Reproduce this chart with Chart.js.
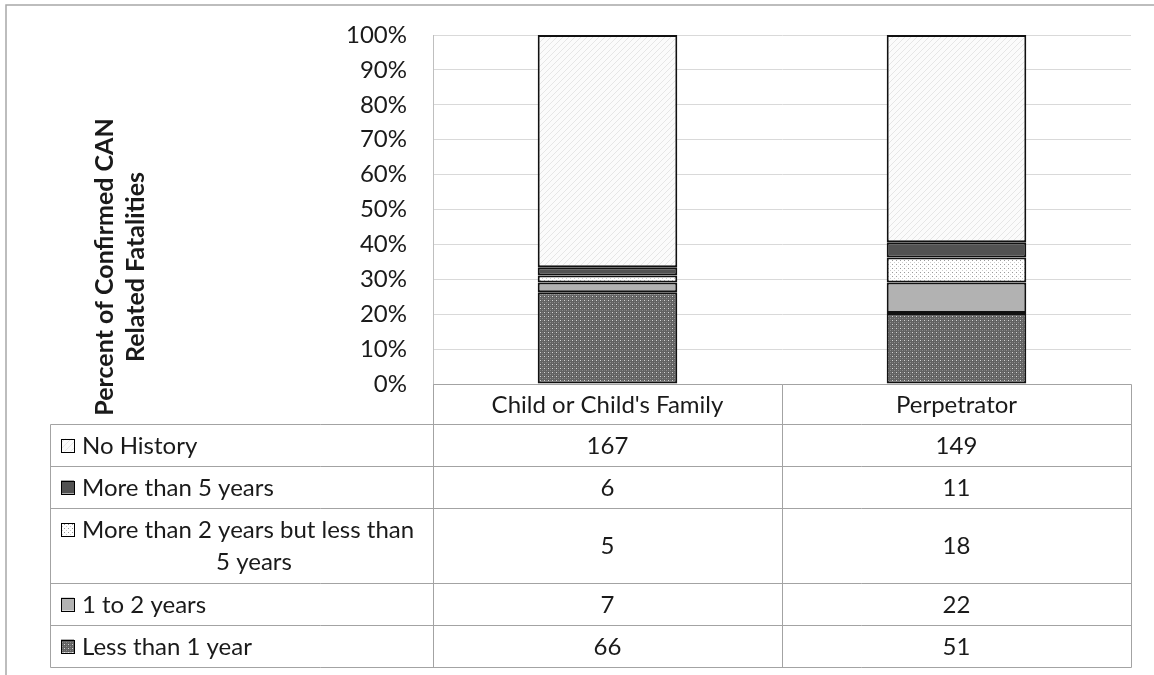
<!DOCTYPE html>
<html>
<head>
<meta charset="utf-8">
<script src="https://cdn.jsdelivr.net/npm/chart.js@4.4.1/dist/chart.umd.min.js"></script>
<style>
  body { margin: 0; background: #fff; }
  canvas { display: block; }
</style>
</head>
<body>
<canvas id="myChart" width="1154" height="675"></canvas>
<script>
// data (counts)
const categories = ["Child or Child's Family", "Perpetrator"];
const lessThan1Year = [66, 51];
const oneTo2Years = [7, 22];
const twoTo5Years = [5, 18];
const moreThan5Years = [6, 11];
const noHistory = [167, 149];
const yTickValues = [0, 10, 20, 30, 40, 50, 60, 70, 80, 90, 100];
const yTitle = ["Percent of Confirmed CAN", "Related Fatalities"];

const FONT = "Lato, 'Open Sans', sans-serif";
const TEXT = "#1a1a1a";

function makePattern(size, bg, dots) {
  const c = document.createElement("canvas");
  c.width = size;
  c.height = size;
  const g = c.getContext("2d");
  g.fillStyle = bg;
  g.fillRect(0, 0, size, size);
  dots.forEach(([x, y, col]) => {
    g.fillStyle = col;
    g.fillRect(x, y, 1, 1);
  });
  return g.createPattern(c, "repeat");
}

const patLess1 = makePattern(4, "#626262", [[0, 0, "#d4d4d4"], [2, 2, "#8c8c8c"], [2, 0, "#7a7a7a"], [0, 2, "#7a7a7a"]]);
const fill1to2 = "#b2b2b2";
const pat2to5 = makePattern(4, "#ffffff", [[0, 0, "#9a9a9a"], [2, 2, "#cfcfcf"]]);
const fillMore5 = "#525252";
const diag = [];
for (let i = 0; i < 6; i++) diag.push([i, 5 - i, "#e6e6e6"]);
const patNoHist = makePattern(6, "#fbfbfb", diag);

const totals = categories.map((_, i) =>
  lessThan1Year[i] + oneTo2Years[i] + twoTo5Years[i] + moreThan5Years[i] + noHistory[i]);
const pct = arr => arr.map((v, i) => (v / totals[i]) * 100);

// bottom-up stacking order
const series = [
  { label: "Less than 1 year", counts: lessThan1Year, fill: patLess1 },
  { label: "1 to 2 years", counts: oneTo2Years, fill: fill1to2 },
  { label: "More than 2 years but less than 5 years", counts: twoTo5Years, fill: pat2to5,
    lines: ["More than 2 years but less than", "5 years"] },
  { label: "More than 5 years", counts: moreThan5Years, fill: fillMore5 },
  { label: "No History", counts: noHistory, fill: patNoHist },
];

// table layout (pixels)
const tableLeft = 50;
const headerBottom = 424;
const rowLines = [424, 466, 508, 583, 625, 667];
const gridCol = "#a3a3a3";

const tablePlugin = {
  id: "dataTable",
  afterDraw(chart) {
    const ctx = chart.ctx;
    const area = chart.chartArea;
    const x = chart.scales.x;
    const mid = (x.getPixelForValue(0) + x.getPixelForValue(1)) / 2;
    const cols = [tableLeft, area.left, mid, area.right];
    const r = v => Math.round(v) + 0.5;
    ctx.save();

    // outer frame of the chart object
    ctx.strokeStyle = "#a8a8a8";
    ctx.lineWidth = 1.5;
    ctx.beginPath();
    ctx.moveTo(6, 675);
    ctx.lineTo(6, 5);
    ctx.lineTo(1154, 5);
    ctx.stroke();

    ctx.strokeStyle = gridCol;
    ctx.lineWidth = 1;
    ctx.beginPath();
    // header row
    ctx.moveTo(r(area.left), r(area.bottom));
    ctx.lineTo(r(area.right), r(area.bottom));
    [area.left, mid, area.right].forEach(cx => {
      ctx.moveTo(r(cx), r(area.bottom));
      ctx.lineTo(r(cx), r(rowLines[rowLines.length - 1]));
    });
    rowLines.forEach(y => {
      ctx.moveTo(r(tableLeft), r(y));
      ctx.lineTo(r(area.right), r(y));
    });
    ctx.moveTo(r(tableLeft), r(rowLines[0]));
    ctx.lineTo(r(tableLeft), r(rowLines[rowLines.length - 1]));
    ctx.stroke();

    ctx.fillStyle = TEXT;
    ctx.font = "24px " + FONT;
    ctx.textAlign = "center";
    ctx.textBaseline = "middle";
    categories.forEach((c, i) => {
      ctx.fillText(c, (cols[i + 1] + cols[i + 2]) / 2, (area.bottom + headerBottom) / 2 + 1);
    });

    const rows = series.slice().reverse();
    rows.forEach((s, ri) => {
      const top = rowLines[ri];
      const bot = rowLines[ri + 1];
      const cy = (top + bot) / 2 + 1;
      // swatch
      const sw = 13;
      let sy = cy - sw / 2 - 1;
      if (s.lines) sy = cy - 16 - sw / 2 - 1;
      ctx.fillStyle = s.fill;
      ctx.fillRect(61, sy, sw, sw);
      ctx.strokeStyle = "#000";
      ctx.lineWidth = 1;
      ctx.strokeRect(61.5, Math.round(sy) + 0.5, sw, sw);
      ctx.fillStyle = TEXT;
      if (s.lines) {
        ctx.textAlign = "left";
        ctx.fillText(s.lines[0], 82, cy - 16);
        ctx.textAlign = "center";
        ctx.fillText(s.lines[1], 254, cy + 16);
      } else {
        ctx.textAlign = "left";
        ctx.fillText(s.label, 82, cy);
      }
      ctx.textAlign = "center";
      s.counts.forEach((v, ci) => {
        ctx.fillText(String(v), (cols[ci + 1] + cols[ci + 2]) / 2, cy);
      });
    });

    // vertical axis title
    ctx.save();
    ctx.translate(121, 267);
    ctx.rotate(-Math.PI / 2);
    ctx.font = "bold 25px " + FONT;
    ctx.textAlign = "center";
    ctx.textBaseline = "middle";
    ctx.fillStyle = TEXT;
    ctx.fillText(yTitle[0], 0, -16);
    ctx.fillText(yTitle[1], 0, 15);
    ctx.restore();

    ctx.restore();
  },
};

new Chart(document.getElementById("myChart"), {
  type: "bar",
  data: {
    labels: categories,
    datasets: series.map(s => ({
      label: s.label,
      data: pct(s.counts),
      backgroundColor: s.fill,
      borderColor: "#111",
      borderWidth: 2,
      borderSkipped: false,
      barPercentage: 0.4,
      categoryPercentage: 1,
    })),
  },
  options: {
    responsive: false,
    animation: false,
    layout: { padding: { left: 6, right: 23, top: 35, bottom: 291 } },
    plugins: {
      legend: { display: false },
      tooltip: { enabled: false },
    },
    scales: {
      x: {
        stacked: true,
        display: false,
      },
      y: {
        stacked: true,
        min: 0,
        max: 100,
        afterFit(scale) {
          scale.width = 427;
          scale.paddingTop = 0;
          scale.paddingBottom = 0;
        },
        afterBuildTicks(scale) { scale.ticks = yTickValues.map(v => ({ value: v })); },
        ticks: {
          padding: 26,
          color: TEXT,
          font: { family: FONT, size: 24 },
          callback: v => v + "%",
        },
        grid: { color: "#d9d9d9", drawTicks: false },
        border: { color: "#bfbfbf" },
      },
    },
  },
  plugins: [tablePlugin],
});
</script>
</body>
</html>
